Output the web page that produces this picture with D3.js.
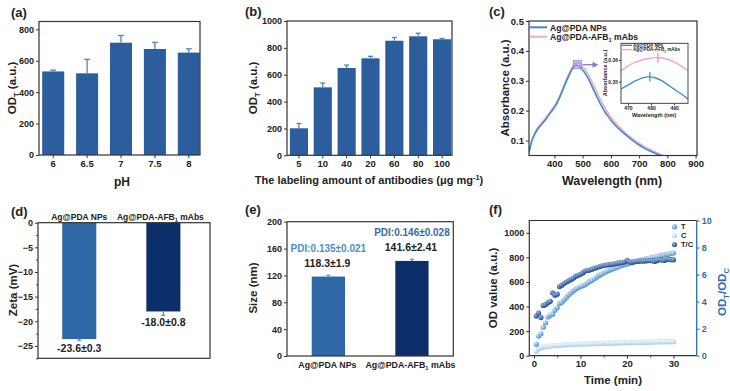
<!DOCTYPE html>
<html><head><meta charset="utf-8">
<script src="https://cdn.jsdelivr.net/npm/d3@7"></script>
<style>
body{margin:0;background:#fff}
svg text{font-family:"Liberation Sans",Arial,Helvetica,sans-serif;font-weight:bold}
</style>
</head><body><script>
// ---------------- DATA ----------------
// (a) pH
const phCats = ["6","6.5","7","7.5","8"];
const phVals = [532, 520, 715, 675, 652];
const phErr  = [8, 89, 46, 42, 24];
// (b) labeling amount
const abCats = ["5","10","40","20","60","80","100"];
const abVals = [201, 506, 650, 722, 853, 886, 864];
const abErr  = [36, 32, 22, 15, 24, 23, 6];
// (c) UV-vis spectra
const wl      = [310,320,330,340,350,360,370,380,390,400,410,420,430,440,450,460,470,480,490,500,510,520,530,540,550,560,570,580,590,600,620,640,660,680,700,720,740,760,780,800,850,900];
const absNP   = [0.060,0.098,0.121,0.137,0.149,0.160,0.171,0.185,0.198,0.211,0.227,0.247,0.270,0.293,0.314,0.334,0.348,0.352,0.347,0.336,0.323,0.307,0.288,0.267,0.247,0.228,0.210,0.194,0.181,0.168,0.147,0.129,0.113,0.098,0.085,0.074,0.064,0.056,0.049,0.043,0.031,0.023];
const absMAb  = [0.062,0.102,0.125,0.142,0.154,0.165,0.177,0.190,0.203,0.216,0.232,0.252,0.275,0.299,0.321,0.341,0.355,0.361,0.358,0.348,0.336,0.320,0.302,0.282,0.262,0.242,0.224,0.207,0.192,0.178,0.155,0.136,0.119,0.104,0.091,0.079,0.069,0.060,0.052,0.046,0.034,0.025];
// (c) inset (zoomed spectra around the peak)
const wlIn     = [467,470,473,476,479,482,485,488,491,494,496];
const absNPIn  = [0.3466,0.3484,0.3502,0.3516,0.3522,0.3517,0.3502,0.3480,0.3458,0.3436,0.3420];
const absMAbIn = [0.3550,0.3572,0.3589,0.3600,0.3607,0.3611,0.3609,0.3600,0.3585,0.3565,0.3552];
const peakIn   = [[479.5,0.3522],[483,0.3610]];
const seriesC  = ["Ag@PDA NPs","Ag@PDA-AFB1 mAbs"];
// (d) zeta
const zCats = ["Ag@PDA NPs","Ag@PDA-AFB1 mAbs"];
const zVals = [-23.6, -18.0];
const zErr  = [0.3, 0.8];
const zLabels = ["-23.6±0.3","-18.0±0.8"];
// (e) size
const sVals = [118.3, 141.6];
const sErr  = [1.9, 2.41];
const sLabels = ["118.3±1.9","141.6±2.41"];
const pdiLabels = ["PDI:0.135±0.021","PDI:0.146±0.028"];
// (f) kinetics
const time = [0.5,1,1.5,2,2.5,3,3.5,4,4.5,5,5.5,6,6.5,7,7.5,8,8.5,9,9.5,10,10.5,11,11.5,12,12.5,13,13.5,14,14.5,15,15.5,16,16.5,17,17.5,18,18.5,19,19.5,20,20.5,21,21.5,22,22.5,23,23.5,24,24.5,25,25.5,26,26.5,27,27.5,28,28.5,29,29.5,30];
const odT  = [94,160,178,232,268,315,330,338,370,392,425,435,455,476,496,512,528,542,553,563,570,578,592,604,614,626,640,653,663,673,683,692,700,708,715,722,729,735,741,746,752,757,762,768,773,778,782,787,791,796,800,804,808,812,816,820,824,827,831,834];
const odC  = [35,55,64,70,73,76,78,80,82,84,85,87,88,89,90,91,92,93,94,95,95,96,97,97,98,98,99,100,100,101,101,102,102,103,103,104,104,105,105,106,106,107,107,108,108,109,109,110,110,111,111,112,112,113,113,113,114,114,114,114];
const odTC = [2.94,3.15,2.82,3.72,3.78,3.92,4.02,4.65,4.48,4.55,5.12,5.22,5.35,5.45,5.55,5.64,5.74,5.88,5.95,6.02,6.12,6.26,6.30,6.34,6.40,6.46,6.52,6.58,6.63,6.67,6.70,6.72,6.75,6.77,6.80,6.84,6.86,6.89,6.93,7.05,6.95,6.92,6.94,6.97,6.99,7.01,7.00,7.01,7.03,7.04,7.02,6.97,7.05,7.11,7.08,7.04,7.10,7.14,7.10,7.09];
const fLegend = ["T","C","T/C"];

// ---------------- HELPERS ----------------
const svg = d3.select("body").append("svg").attr("width",730).attr("height",391);
const INK = "#222";
const BAR = "#2c5e9d", ERR = "#4f84c0";
const BAR1 = "#2f67a6", BAR2 = "#0c2f69";
const fmtInt = d3.format("d");

function styleAxis(g, fs, color){
  g.select(".domain").remove();
  g.selectAll(".tick line").attr("stroke", color||"#333").attr("stroke-width",1);
  g.selectAll(".tick text").attr("font-size",fs).attr("fill",color||INK).style("font-weight","bold");
  return g;
}
function box(x0,y0,x1,y1,color,sw){
  svg.append("rect").attr("x",x0).attr("y",y0).attr("width",x1-x0).attr("height",y1-y0)
    .attr("fill","none").attr("stroke",color||"#333").attr("stroke-width",sw||1.2);
}
function rich(t, parts, fs){
  let off = 0;
  parts.forEach(p=>{
    const s = typeof p==="string" ? [p,null] : p;
    const target = s[1]==="sub" ? fs*0.3 : s[1]==="sup" ? -fs*0.4 : 0;
    t.append("tspan").attr("dy", target-off).attr("font-size", s[1] ? fs*0.66 : fs).text(s[0]);
    off = target;
  });
  return t;
}
function label(x,y,parts,fs,opt){
  opt = opt||{};
  const t = svg.append("text")
    .attr("transform",`translate(${x},${y})`+(opt.rot?` rotate(${opt.rot})`:""))
    .attr("text-anchor",opt.anchor||"middle").attr("font-size",fs).attr("fill",opt.color||INK);
  return rich(t, Array.isArray(parts)?parts:[parts], fs);
}
function afb(name){
  const i = name.indexOf("AFB1");
  if(i<0) return [name];
  return [name.slice(0,i+3),[ "1","sub"], name.slice(i+4)];
}
function errUp(g, xs, ys, cap, color){
  xs.forEach((xv,i)=>{
    g.append("line").attr("x1",xv).attr("x2",xv).attr("y1",ys[i][0]).attr("y2",ys[i][1]).attr("stroke",color).attr("stroke-width",1.3);
    g.append("line").attr("x1",xv-cap/2).attr("x2",xv+cap/2).attr("y1",ys[i][1]).attr("y2",ys[i][1]).attr("stroke",color).attr("stroke-width",1.3);
  });
}

// ---------------- (a) ----------------
{
  const X0=39,X1=200,Y0=21.5,Y1=155;
  const x = d3.scaleBand().domain(phCats).range([X0+1.5,X1+1.5]).paddingInner(0.35).paddingOuter(0.05);
  const y = d3.scaleLinear().domain([0,850]).range([Y1,Y0]);
  const g = svg.append("g");
  g.selectAll("rect").data(phVals).join("rect")
    .attr("x",(d,i)=>x(phCats[i])).attr("y",d=>y(d)).attr("width",x.bandwidth()).attr("height",d=>Y1-y(d)).attr("fill",BAR);
  errUp(g, phCats.map(c=>x(c)+x.bandwidth()/2), phVals.map((v,i)=>[y(v),y(v+phErr[i])]), 6, ERR);
  styleAxis(svg.append("g").attr("transform",`translate(${X0},0)`).call(d3.axisLeft(y).tickValues([0,200,400,600,800]).tickFormat(fmtInt).tickSize(3).tickPadding(2)),9);
  styleAxis(svg.append("g").attr("transform",`translate(0,${Y1})`).call(d3.axisBottom(x).tickSize(3).tickPadding(2)),9.5);
  box(X0,Y0,X1,Y1);
  label(16,88,["OD",["T","sub"]," (a.u.)"],11.5,{rot:-90});
  label(122,186,"pH",12);
  label(11,17,"(a)",13,{anchor:"start"});
}

// ---------------- (b) ----------------
{
  const X0=287,X1=452,Y0=21,Y1=155.3;
  const x = d3.scaleBand().domain(abCats).range([X0,X1+2]).paddingInner(0.24).paddingOuter(0.12);
  const y = d3.scaleLinear().domain([0,1000]).range([Y1,Y0]);
  const g = svg.append("g");
  g.selectAll("rect").data(abVals).join("rect")
    .attr("x",(d,i)=>x(abCats[i])).attr("y",d=>y(d)).attr("width",x.bandwidth()).attr("height",d=>Y1-y(d)).attr("fill",BAR);
  errUp(g, abCats.map(c=>x(c)+x.bandwidth()/2), abVals.map((v,i)=>[y(v),y(v+abErr[i])]), 5, ERR);
  styleAxis(svg.append("g").attr("transform",`translate(${X0},0)`).call(d3.axisLeft(y).tickValues([0,200,400,600,800,1000]).tickFormat(fmtInt).tickSize(3).tickPadding(2)),9);
  styleAxis(svg.append("g").attr("transform",`translate(0,${Y1})`).call(d3.axisBottom(x).tickSize(3).tickPadding(2)),9.5);
  box(X0,Y0,X1,Y1);
  label(257,88,["OD",["T","sub"]," (a.u.)"],11.5,{rot:-90});
  label(369,184,["The labeling amount of antibodies (μg mg",["-1","sup"],")"],11);
  label(245,16,"(b)",13,{anchor:"start"});
}

// ---------------- (c) ----------------
{
  const X0=529,X1=697,Y0=21,Y1=155.5;
  const x = d3.scaleLinear().domain([310,905]).range([X0,X1]);
  const y = d3.scaleLinear().domain([0.05,0.5]).range([Y1,Y0]);
  const defs = svg.append("defs");
  defs.append("clipPath").attr("id","clipC").append("rect").attr("x",X0).attr("y",Y0).attr("width",X1-X0).attr("height",Y1-Y0);
  const line = d3.line().x(d=>x(d[0])).y(d=>y(d[1])).curve(d3.curveMonotoneX);
  const g = svg.append("g").attr("clip-path","url(#clipC)");
  g.append("path").datum(wl.map((w,i)=>[w,absMAb[i]])).attr("d",line).attr("fill","none").attr("stroke","#f0a9c2").attr("stroke-width",1.6);
  g.append("path").datum(wl.map((w,i)=>[w,absNP[i]])).attr("d",line).attr("fill","none").attr("stroke","#3b8fc9").attr("stroke-width",1.6);
  const inX=[467,496], inY=[0.340,0.3677];
  svg.append("rect").attr("x",x(inX[0])).attr("y",y(inY[1])).attr("width",x(inX[1])-x(inX[0])).attr("height",y(inY[0])-y(inY[1]))
    .attr("fill","#a898e6").attr("fill-opacity",0.65).attr("stroke","#8a78d8").attr("stroke-width",0.6);
  const ay = (y(inY[0])+y(inY[1]))/2, ax0 = x(inX[1])+1;
  svg.append("line").attr("x1",ax0).attr("x2",ax0+11).attr("y1",ay).attr("y2",ay).attr("stroke","#8a78d8").attr("stroke-width",1.3);
  svg.append("path").attr("d",`M${ax0+10},${ay-3} L${ax0+16},${ay} L${ax0+10},${ay+3} Z`).attr("fill","#8a78d8");

  styleAxis(svg.append("g").attr("transform",`translate(${X0},0)`).call(d3.axisLeft(y).tickValues([0.1,0.2,0.3,0.4,0.5]).tickFormat(d3.format(".1f")).tickSize(3).tickPadding(2)),9.5);
  styleAxis(svg.append("g").attr("transform",`translate(0,${Y1})`).call(d3.axisBottom(x).tickValues([400,500,600,700,800,900]).tickFormat(fmtInt).tickSize(3).tickPadding(2)),9.5);
  box(X0,Y0,X1,Y1);
  const lg = [[27.3,"#3b8fc9"],[36.7,"#f0a9c2"]];
  seriesC.forEach((s,i)=>{
    svg.append("line").attr("x1",530).attr("x2",547).attr("y1",lg[i][0]).attr("y2",lg[i][0]).attr("stroke",lg[i][1]).attr("stroke-width",2);
    label(550,lg[i][0]+3.2,afb(s),8.6,{anchor:"start"});
  });
  // inset
  const IX0=621,IX1=688,IY0=43.3,IY1=103.3;
  const xi = d3.scaleLinear().domain(inX).range([IX0,IX1]);
  const yi = d3.scaleLinear().domain(inY).range([IY1,IY0]);
  svg.append("rect").attr("x",IX0).attr("y",IY0).attr("width",IX1-IX0).attr("height",IY1-IY0).attr("fill","#fff");
  const li = d3.line().x(d=>xi(d[0])).y(d=>yi(d[1])).curve(d3.curveMonotoneX);
  svg.append("path").datum(wlIn.map((w,i)=>[w,absMAbIn[i]])).attr("d",li).attr("fill","none").attr("stroke","#f0a9c2").attr("stroke-width",1.4);
  svg.append("path").datum(wlIn.map((w,i)=>[w,absNPIn[i]])).attr("d",li).attr("fill","none").attr("stroke","#3b8fc9").attr("stroke-width",1.4);
  const pc = ["#3b8fc9","#e98aab"];
  peakIn.forEach((p,i)=>{
    svg.append("line").attr("x1",xi(p[0])).attr("x2",xi(p[0])).attr("y1",yi(p[1]+0.0023)).attr("y2",yi(p[1]-0.0023)).attr("stroke",pc[i]).attr("stroke-width",1.2);
  });
  styleAxis(svg.append("g").attr("transform",`translate(${IX0},0)`).call(d3.axisLeft(yi).tickValues([0.35,0.36]).tickFormat(d3.format(".2f")).tickSize(2).tickPadding(1)),5);
  styleAxis(svg.append("g").attr("transform",`translate(0,${IY1})`).call(d3.axisBottom(xi).tickValues([470,480,490]).tickFormat(fmtInt).tickSize(2).tickPadding(1)),5);
  box(IX0,IY0,IX1,IY1,"#333",0.9);
  const ilg=[[45.3,"#3b8fc9"],[49.6,"#f0a9c2"]];
  seriesC.forEach((s,i)=>{
    svg.append("line").attr("x1",IX0+0.5).attr("x2",IX0+11).attr("y1",ilg[i][0]).attr("y2",ilg[i][0]).attr("stroke",ilg[i][1]).attr("stroke-width",1.4);
    label(IX0+12,ilg[i][0]+1.7,afb(s),4.6,{anchor:"start"});
  });
  label(607,73,"Absorbance (a.u.)",5.5,{rot:-90});
  label(654,117,"Wavelength (nm)",5.5);

  label(509,88,"Absorbance (a.u.)",11.5,{rot:-90});
  label(612,184.5,"Wavelength (nm)",12.5);
  label(489,16,"(c)",13,{anchor:"start"});
}

// ---------------- (d) ----------------
{
  const X0=38,X1=210,Y0=222.7,Y1=358.3;
  const x = d3.scaleBand().domain(zCats).range([X0,X1]).paddingInner(0.595).paddingOuter(0.32).align(0.45);
  const y = d3.scaleLinear().domain([-27.5,0]).range([Y1,Y0]);
  const cols=[BAR1,BAR2];
  svg.selectAll("rect.zb").data(zVals).join("rect").attr("class","zb")
    .attr("x",(d,i)=>x(zCats[i])).attr("y",y(0)).attr("width",x.bandwidth()).attr("height",d=>y(d)-y(0)).attr("fill",(d,i)=>cols[i]);
  const g = svg.append("g");
  errUp(g, zCats.map(c=>x(c)+x.bandwidth()/2), zVals.map((v,i)=>[y(v),y(v-zErr[i])]), 4, "#5b93d3");
  styleAxis(svg.append("g").attr("transform",`translate(${X0},0)`).call(d3.axisLeft(y).tickValues([0,-5,-10,-15,-20,-25]).tickFormat(d=>d===0?"0":"−"+Math.abs(d)).tickSize(3).tickPadding(2)),9);
  styleAxis(svg.append("g").attr("transform",`translate(${X0},0)`).call(d3.axisLeft(y).tickValues([-2.5,-7.5,-12.5,-17.5,-22.5,-27.5]).tickFormat("").tickSize(1.8)),9);
  box(X0,Y0,X1,Y1);
  zCats.forEach((c,i)=>label(x(c)+x.bandwidth()/2-(i?3:0),219.5,afb(c),8.5));
  zVals.forEach((v,i)=>label(x(zCats[i])+x.bandwidth()/2,y(v-zErr[i])+11,zLabels[i],10.5));
  label(17,290,"Zeta (mV)",11.5,{rot:-90});
  label(11,215.5,"(d)",13,{anchor:"start"});
}

// ---------------- (e) ----------------
{
  const X0=287,X1=453.3,Y0=221.7,Y1=356;
  const x = d3.scaleBand().domain(zCats).range([X0,X1]).paddingInner(0.602).paddingOuter(0.296);
  const y = d3.scaleLinear().domain([0,200]).range([Y1,Y0]);
  const cols=[BAR1,BAR2];
  svg.selectAll("rect.sb").data(sVals).join("rect").attr("class","sb")
    .attr("x",(d,i)=>x(zCats[i])).attr("y",d=>y(d)).attr("width",x.bandwidth()).attr("height",d=>Y1-y(d)).attr("fill",(d,i)=>cols[i]);
  const g = svg.append("g");
  errUp(g, zCats.map(c=>x(c)+x.bandwidth()/2), sVals.map((v,i)=>[y(v),y(v+sErr[i])]), 4, "#5b93d3");
  styleAxis(svg.append("g").attr("transform",`translate(${X0},0)`).call(d3.axisLeft(y).tickValues([0,40,80,120,160,200]).tickFormat(fmtInt).tickSize(3).tickPadding(2)),9);
  box(X0,Y0,X1,Y1);
  zCats.forEach((c,i)=>label(x(c)+x.bandwidth()/2-(i?1.5:1),367.5,afb(c),8.8));
  const pdiCol=["#4f8ccd","#3a69a8"];
  sVals.forEach((v,i)=>{
    const cx = x(zCats[i])+x.bandwidth()/2;
    label(cx-1,y(v+sErr[i])-8,sLabels[i],10.5);
    label(cx,y(v+sErr[i])-23,pdiLabels[i],10,{color:pdiCol[i]});
  });
  label(257,288,"Size (nm)",11.5,{rot:-90});
  label(245,214,"(e)",13,{anchor:"start"});
}

// ---------------- (f) ----------------
{
  const X0=529.3,X1=696.7,Y0=220.5,Y1=355.7;
  const x = d3.scaleLinear().domain([-1,35]).range([X0,X1]);
  const yL = d3.scaleLinear().domain([0,1100]).range([Y1,Y0]);
  const yR = d3.scaleLinear().domain([0,10]).range([Y1,Y0]);
  const defs = svg.append("defs");
  const gcols = [["#d8e9f7","#4b8dcb"],["#f3f9fd","#a6cbe8"],["#9db8e0","#1b468c"]];
  gcols.forEach((c,i)=>{
    const gr = defs.append("radialGradient").attr("id","gf"+i).attr("cx","35%").attr("cy","32%").attr("r","70%");
    gr.append("stop").attr("offset","0%").attr("stop-color",c[0]);
    gr.append("stop").attr("offset","100%").attr("stop-color",c[1]);
  });
  const r=2.6;
  svg.append("g").selectAll("circle").data(odC).join("circle").attr("cx",(d,i)=>x(time[i])).attr("cy",d=>yL(d)).attr("r",r).attr("fill","url(#gf1)");
  svg.append("g").selectAll("circle").data(odT).join("circle").attr("cx",(d,i)=>x(time[i])).attr("cy",d=>yL(d)).attr("r",r).attr("fill","url(#gf0)");
  svg.append("g").selectAll("circle").data(odTC).join("circle").attr("cx",(d,i)=>x(time[i])).attr("cy",d=>yR(d)).attr("r",r).attr("fill","url(#gf2)");
  styleAxis(svg.append("g").attr("transform",`translate(${X0},0)`).call(d3.axisLeft(yL).tickValues([0,200,400,600,800,1000]).tickFormat(fmtInt).tickSize(3).tickPadding(2)),9);
  styleAxis(svg.append("g").attr("transform",`translate(0,${Y1})`).call(d3.axisBottom(x).tickValues([0,10,20,30]).tickFormat(fmtInt).tickSize(3).tickPadding(2)),9.5);
  styleAxis(svg.append("g").attr("transform",`translate(0,${Y1})`).call(d3.axisBottom(x).tickValues([5,15,25]).tickFormat("").tickSize(1.8)),9);
  const RC="#2b6db3";
  styleAxis(svg.append("g").attr("transform",`translate(${X1},0)`).call(d3.axisRight(yR).tickValues([0,2,4,6,8,10]).tickFormat(fmtInt).tickSize(3).tickPadding(2)),9,RC);
  svg.append("path").attr("d",`M${X1},${Y1} L${X0},${Y1} L${X0},${Y0} L${X1},${Y0}`).attr("fill","none").attr("stroke","#333").attr("stroke-width",1.2);
  svg.append("line").attr("x1",X1).attr("x2",X1).attr("y1",Y0).attr("y2",Y1).attr("stroke",RC).attr("stroke-width",1.3);
  const ly=[226.7,235.5,244.5];
  fLegend.forEach((s,i)=>{
    svg.append("circle").attr("cx",674.5).attr("cy",ly[i]).attr("r",r).attr("fill","url(#gf"+i+")");
    label(681,ly[i]+2.6,s,7.5,{anchor:"start"});
  });
  label(497,288,"OD value (a.u.)",11.5,{rot:-90});
  label(726,292,["OD",["T","sub"],"/OD",["C","sub"]],11.5,{rot:-90,color:RC});
  label(613,384,"Time (min)",11.5);
  label(489,214,"(f)",13,{anchor:"start"});
}
</script></body></html>
